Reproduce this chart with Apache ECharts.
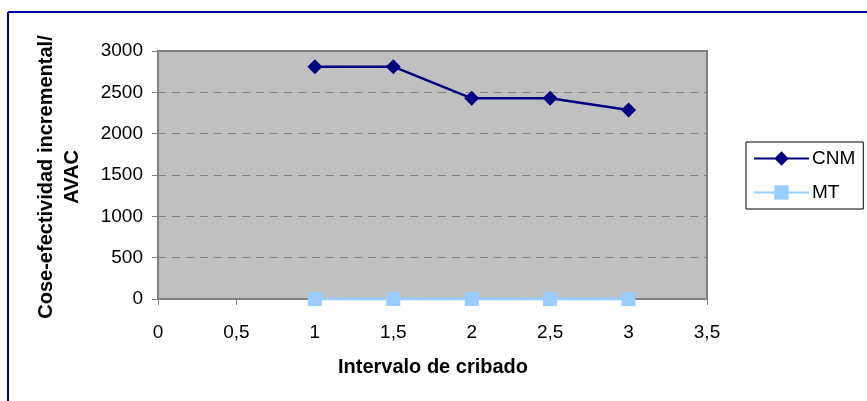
<!DOCTYPE html>
<html>
<head>
<meta charset="utf-8">
<script src="https://cdn.jsdelivr.net/npm/echarts@6/dist/echarts.min.js"></script>
<style>
html,body{margin:0;padding:0;background:#fff;}
#chart{width:867px;height:401px;}
</style>
</head>
<body>
<div id="chart"></div>
<script>
var intervals = [1, 1.5, 2, 2.5, 3];
var cnmValues = [2810, 2810, 2428, 2428, 2286];
var mtValues = [0, 0, 0, 0, 0];
var seriesNames = ['CNM', 'MT'];
var xTitle = 'Intervalo de cribado';
var yTitleLines = ['Cose-efectividad incremental/', 'AVAC'];

var chart = echarts.init(document.getElementById('chart'), null, {renderer: 'canvas'});
var font = 'Arial, "Liberation Sans", sans-serif';

function pairs(xs, ys) {
  return xs.map(function (x, i) { return [x, ys[i]]; });
}

var option = {
  animation: false,
  backgroundColor: '#ffffff',
  textStyle: {fontFamily: font},
  grid: {
    left: 158, top: 51, right: 160, bottom: 102,
    show: true, backgroundColor: '#c0c0c0', borderColor: '#808080', borderWidth: 2
  },
  xAxis: {
    type: 'value', min: 0, max: 3.5, interval: 0.5,
    axisLine: {show: true, onZero: false, lineStyle: {color: '#808080', width: 2}},
    axisTick: {show: true, length: 6, lineStyle: {color: '#808080', width: 1}},
    splitLine: {show: false},
    axisLabel: {
      color: '#000', fontSize: 19, fontFamily: font, margin: 24,
      formatter: function (v) { return String(v).replace('.', ','); }
    }
  },
  yAxis: {
    type: 'value', min: 0, max: 3000, interval: 500,
    axisLine: {show: true, lineStyle: {color: '#808080', width: 2}},
    axisTick: {show: true, length: 6, lineStyle: {color: '#808080', width: 1}},
    splitLine: {show: true, lineStyle: {color: '#808080', type: [8, 6], width: 1}},
    axisLabel: {
      color: '#000', fontSize: 19, fontFamily: font, margin: 15,
      formatter: function (v) { return String(v); }
    }
  },
  legend: {
    left: 746, top: 142,
    orient: 'vertical',
    backgroundColor: '#ffffff',
    borderColor: '#000000', borderWidth: 1,
    padding: [7, 8, 7, 7],
    itemWidth: 55, itemHeight: 18, itemGap: 15,
    textStyle: {color: '#000', fontSize: 19, fontFamily: font, padding: [0, 0, 0, -2]},
    data: seriesNames
  },
  series: [
    {
      name: seriesNames[0], type: 'line', data: pairs(intervals, cnmValues),
      symbol: 'diamond', symbolSize: 15,
      lineStyle: {color: '#000080', width: 2.5},
      itemStyle: {color: '#000080'}
    },
    {
      name: seriesNames[1], type: 'line', data: pairs(intervals, mtValues),
      symbol: 'rect', symbolSize: 14,
      lineStyle: {color: '#99ccff', width: 3},
      itemStyle: {color: '#99ccff'}
    }
  ],
  graphic: [
    {type: 'line', shape: {x1: 8, y1: 12, x2: 867, y2: 12}, style: {stroke: '#000099', lineWidth: 2}},
    {type: 'line', shape: {x1: 8, y1: 12, x2: 8, y2: 401}, style: {stroke: '#000099', lineWidth: 2}},
    {
      type: 'text', x: 433, y: 367,
      style: {text: xTitle, font: 'bold 20px ' + font, fill: '#000', align: 'center', verticalAlign: 'middle'}
    },
    {
      type: 'text', x: 46, y: 177, rotation: Math.PI / 2,
      style: {text: yTitleLines[0], font: 'bold 20px ' + font, fill: '#000', align: 'center', verticalAlign: 'middle'}
    },
    {
      type: 'text', x: 72, y: 177, rotation: Math.PI / 2,
      style: {text: yTitleLines[1], font: 'bold 20px ' + font, fill: '#000', align: 'center', verticalAlign: 'middle'}
    }
  ]
};
chart.setOption(option);
</script>
</body>
</html>
